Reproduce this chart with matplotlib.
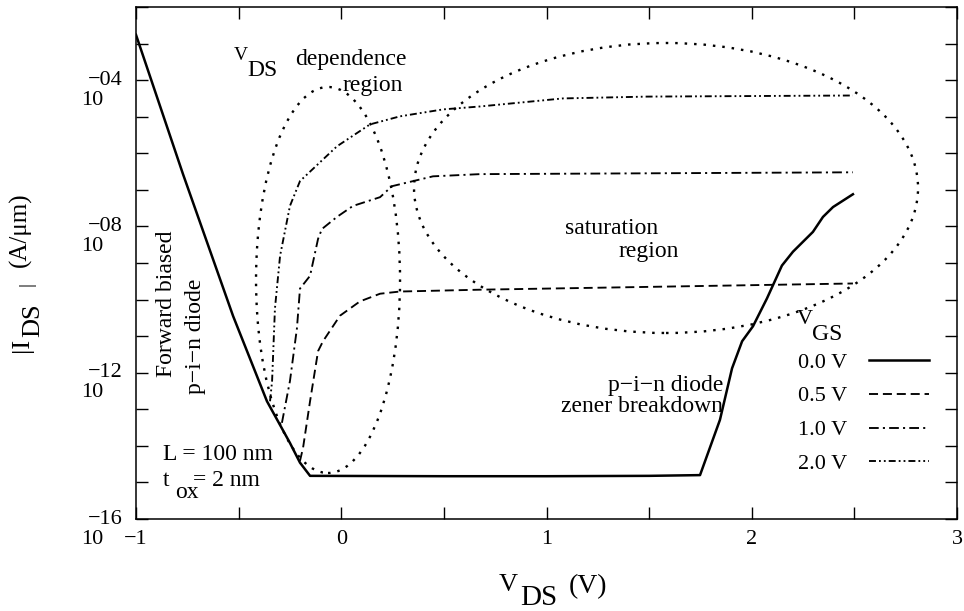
import matplotlib
matplotlib.use('Agg')
import matplotlib.pyplot as plt
from matplotlib.patches import Ellipse
import numpy as np

plt.rcParams['font.family'] = ['Liberation Serif', 'DejaVu Serif']
plt.rcParams['lines.scale_dashes'] = False

W, H = 964, 611

# ---------------- data (V_DS in V, log10 |I_DS| in A/um) ----------------
vds_00 = [-1.0, -0.771, -0.527, -0.362, -0.25, -0.201, -0.152, 0.5, 1.0, 1.5,
          1.748, 1.845, 1.904, 1.953, 2.006, 2.074, 2.147, 2.201, 2.298, 2.347,
          2.396, 2.493]
logi_00 = [-2.76, -6.57, -10.45, -12.78, -13.92, -14.46, -14.82, -14.83, -14.83, -14.82,
           -14.80, -13.29, -11.88, -11.14, -10.73, -9.97, -9.07, -8.69, -8.15, -7.74,
           -7.47, -7.12]

vds_05 = [-0.201, -0.186, -0.152, -0.113, -0.089, -0.006, 0.091, 0.189, 0.286, 0.676, 2.493]
logi_05 = [-14.41, -14.05, -12.78, -11.41, -11.14, -10.44, -10.05, -9.84, -9.78, -9.73, -9.56]

vds_10 = [-0.289, -0.25, -0.216, -0.201, -0.152, -0.113, -0.094, -0.021, 0.057, 0.189,
          0.247, 0.447, 0.676, 2.493]
logi_10 = [-13.37, -12.23, -10.79, -9.70, -9.35, -8.34, -8.07, -7.74, -7.44, -7.20,
           -6.90, -6.63, -6.57, -6.52]

vds_20 = [-0.347, -0.337, -0.323, -0.298, -0.25, -0.201, -0.021, 0.14, 0.286, 0.496,
          0.676, 1.08, 1.49, 2.493]
logi_20 = [-12.78, -12.23, -10.24, -8.80, -7.44, -6.76, -5.81, -5.21, -4.99, -4.80,
           -4.72, -4.50, -4.45, -4.42]

series_labels = ['0.0 V', '0.5 V', '1.0 V', '2.0 V']
x_ticklabels = ['\u22121', '0', '1', '2', '3']
y_label_exps = [-4, -8, -12, -16]

# ---------------- figure ----------------
fig = plt.figure(figsize=(W / 100, H / 100), dpi=100)
L, R, T, B = 136, 957, 7, 519
ax = fig.add_axes([L / W, 1 - B / H, (R - L) / W, (B - T) / H])

ax.set_yscale('log')
ax.set_xlim(-1, 3)
ax.set_ylim(1e-16, 1e-2)

styles = [
    dict(ls='-', lw=1.8),
    dict(ls=(0, (6.5, 3.5)), lw=1.35),
    dict(ls=(0, (7, 3, 1.5, 3)), lw=1.35),
    dict(ls=(0, (5, 2.2, 1.3, 2.2, 1.3, 2.2)), lw=1.35),
]
handles = []
for xs, ys, st, lab in zip([vds_00, vds_05, vds_10, vds_20],
                           [logi_00, logi_05, logi_10, logi_20], styles, series_labels):
    h, = ax.plot(xs, 10.0 ** np.asarray(ys), color='black', label=lab, **st)
    handles.append(h)

# annotation ellipses (dotted)
for (cx, cy, w, h) in [(0.2339, 0.4668, 0.1754, 0.7539), (0.6456, 0.6465, 0.6139, 0.5664)]:
    ax.add_patch(Ellipse((cx, cy), w, h, transform=ax.transAxes, fill=False,
                         ls=(0, (1.8, 5.0)), lw=1.7, color='black'))

# ticks
ax.set_xticks([-1, 0, 1, 2, 3])
ax.set_xticks([-0.5, 0.5, 1.5, 2.5], minor=True)
ax.set_xticklabels(x_ticklabels)
ax.set_yticks([10.0 ** e for e in range(-16, -1)])
ax.yaxis.set_minor_locator(matplotlib.ticker.NullLocator())
ax.set_yticklabels([])
ax.tick_params(which='both', direction='in', length=8.5, width=1.0, top=True, right=True,
               labelsize=16, pad=8)
for s in ax.spines.values():
    s.set_linewidth(1.1)

for e in y_label_exps:
    ax.annotate('\u2212%02d' % (-e), xy=(0, 10.0 ** e), xycoords=('axes fraction', 'data'),
                xytext=(-9.4, 0), textcoords='offset points', ha='right', va='center',
                fontsize=16, annotation_clip=False)
    ax.annotate('10', xy=(0, 10.0 ** e), xycoords=('axes fraction', 'data'),
                xytext=(-23.8, -14.4), textcoords='offset points', ha='right', va='center',
                fontsize=16, annotation_clip=False)

def ftext(px, py, s, size, **kw):
    fig.text(px / W, 1 - py / H, s, fontsize=size, ha=kw.pop('ha', 'center'),
             va=kw.pop('va', 'center'), **kw)

# axis labels
ftext(508, 585, 'V', 19)
ftext(539, 598, 'DS', 21)
ftext(588, 587, '(V)', 20)

ftext(22, 345, '|I', 19, rotation=90)
ftext(33, 320, 'DS', 19, rotation=90)
ftext(27, 284, '|', 14, rotation=90)
ftext(20, 230, '(A/\u03bcm)', 18, rotation=90)

# in-plot annotations
ftext(241, 56, 'V', 14)
ftext(262, 71, 'DS', 17)
ftext(351, 60, 'dependence', 17)
ftext(373, 85, 'region', 17)
ftext(612, 228, 'saturation', 17)
ftext(649, 251, 'region', 17)
ftext(723, 385, 'p\u2212i\u2212n diode', 17, ha='right')
ftext(723, 406, 'zener breakdown', 17, ha='right')
ftext(163, 455, 'L = 100 nm', 17, ha='left')
ftext(163, 480, 't', 17, ha='left')
ftext(175, 493, 'ox', 17, ha='left')
ftext(193, 480, '= 2 nm', 17, ha='left')
ftext(167, 304, 'Forward biased', 17, rotation=90)
ftext(196, 336, 'p\u2212i\u2212n diode', 17, rotation=90)

# legend
ftext(797, 320, 'V', 16, ha='left')
ftext(812, 335, 'GS', 17, ha='left')
leg = ax.legend(handles=handles, loc='upper left',
                bbox_to_anchor=((798 - L) / (R - L), (B - 352) / (B - T)),
                frameon=False, markerfirst=False, fontsize=16, handlelength=2.7,
                handletextpad=1.0, labelspacing=0.6, borderpad=0, borderaxespad=0)

fig.savefig('out.png', dpi=100)
